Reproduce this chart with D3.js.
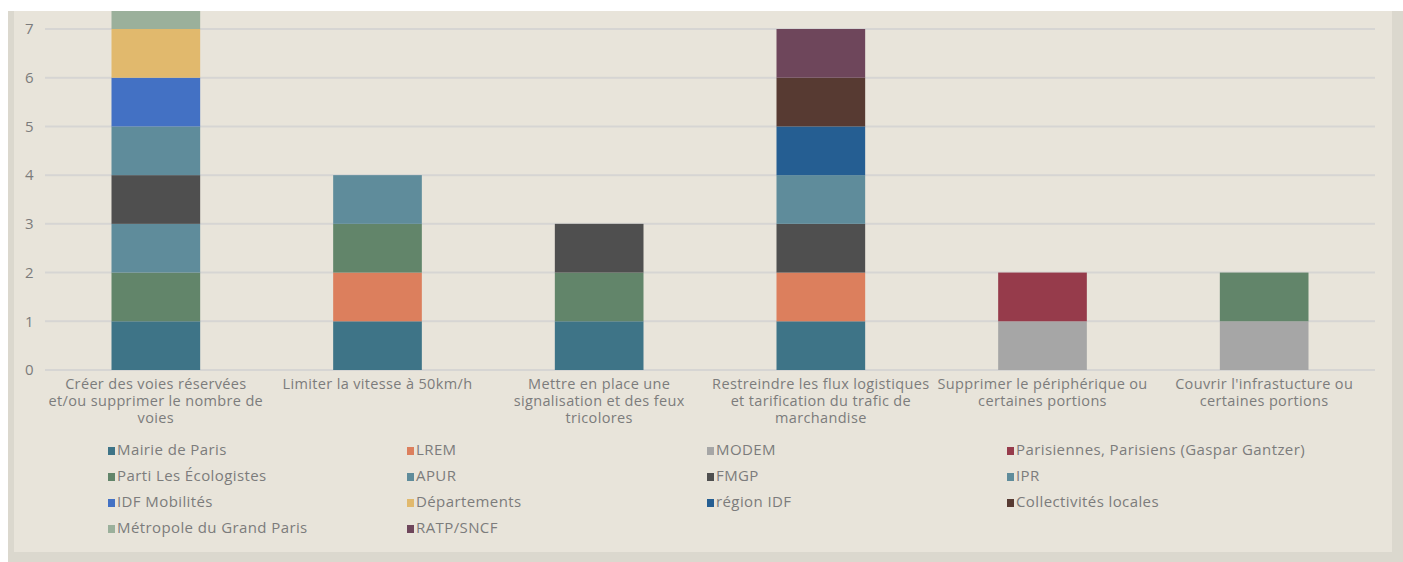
<!DOCTYPE html>
<html>
<head>
<meta charset="utf-8">
<script src="https://cdn.jsdelivr.net/npm/d3@7"></script>
<style>
  body { margin: 0; background: #fff; }
  text { font-family: "Open Sans", sans-serif; fill: #7c7c7c; letter-spacing: 0.4px; }
</style>
</head>
<body>
<script>
const width = 1403;
const height = 562;

// categories (line breaks as in the picture)
const categories = [
  ["Créer des voies réservées", "et/ou supprimer le nombre de", "voies"],
  ["Limiter la vitesse à 50km/h"],
  ["Mettre en place une", "signalisation et des feux", "tricolores"],
  ["Restreindre les flux logistiques", "et tarification du trafic de", "marchandise"],
  ["Supprimer le périphérique ou", "certaines portions"],
  ["Couvrir l'infrastucture ou", "certaines portions"]
];

const seriesNames = [
  "Mairie de Paris", "LREM", "MODEM", "Parisiennes, Parisiens (Gaspar Gantzer)",
  "Parti Les Écologistes", "APUR", "FMGP", "IPR",
  "IDF Mobilités", "Départements", "région IDF", "Collectivités locales",
  "Métropole du Grand Paris", "RATP/SNCF"
];

const seriesColors = [
  "#3e7487", "#dc7f5d", "#a6a6a6", "#963b4b",
  "#62856a", "#5f8c9b", "#4f4f4f", "#5f8c9b",
  "#4371c4", "#e1b96d", "#255e92", "#573a32",
  "#9bb09b", "#6e465b"
];

// one value per category for each series
const mairie      = [1, 1, 1, 1, 0, 0];
const lrem        = [0, 1, 0, 1, 0, 0];
const modem       = [0, 0, 0, 0, 1, 1];
const parisiens   = [0, 0, 0, 0, 1, 0];
const ecologistes = [1, 1, 1, 0, 0, 1];
const apur        = [1, 1, 0, 0, 0, 0];
const fmgp        = [1, 0, 1, 1, 0, 0];
const ipr         = [1, 0, 0, 1, 0, 0];
const idfMob      = [1, 0, 0, 0, 0, 0];
const departements= [1, 0, 0, 0, 0, 0];
const regionIdf   = [0, 0, 0, 1, 0, 0];
const collectiv   = [0, 0, 0, 1, 0, 0];
const metropole   = [1, 0, 0, 0, 0, 0];
const ratp        = [0, 0, 0, 1, 0, 0];

const seriesValues = [mairie, lrem, modem, parisiens, ecologistes, apur, fmgp, ipr,
  idfMob, departements, regionIdf, collectiv, metropole, ratp];

const yTicks = [0, 1, 2, 3, 4, 5, 6, 7];

const svg = d3.select("body").append("svg")
  .attr("width", width)
  .attr("height", height);

// frame and panel
svg.append("rect")
  .attr("x", 8).attr("y", 11)
  .attr("width", width - 8).attr("height", height - 11)
  .attr("fill", "#dbd8ce");
svg.append("rect")
  .attr("x", 14).attr("y", 11)
  .attr("width", 1378).attr("height", 541)
  .attr("fill", "#e8e4da");

svg.append("clipPath").attr("id", "panel")
  .append("rect").attr("x", 14).attr("y", 11).attr("width", 1378).attr("height", 541);

const plot = { left: 45, right: 1375 };

const x = d3.scaleBand()
  .domain(d3.range(categories.length))
  .range([plot.left, plot.right])
  .paddingInner(0.6)
  .paddingOuter(0.3);

const y = d3.scaleLinear()
  .domain([0, 7])
  .range([370, 29]);

// gridlines
svg.append("g")
  .selectAll("line")
  .data(yTicks)
  .join("line")
  .attr("x1", plot.left).attr("x2", plot.right)
  .attr("y1", d => y(d)).attr("y2", d => y(d))
  .attr("stroke", "#d6d5d3")
  .attr("stroke-width", 2);

// y labels
svg.append("g")
  .selectAll("text")
  .data(yTicks)
  .join("text")
  .attr("x", 34)
  .attr("y", d => y(d))
  .attr("dy", "0.35em")
  .attr("text-anchor", "end")
  .style("font-size", "15px")
  .text(d => d);

// stacked bars
const table = categories.map((c, i) => {
  const row = { i };
  seriesNames.forEach((s, k) => { row[s] = seriesValues[k][i]; });
  return row;
});
const stacked = d3.stack().keys(seriesNames)(table);

svg.append("g")
  .attr("clip-path", "url(#panel)")
  .selectAll("g")
  .data(stacked)
  .join("g")
  .attr("fill", (d, k) => seriesColors[k])
  .selectAll("rect")
  .data(d => d.filter(p => p[1] > p[0]))
  .join("rect")
  .attr("x", d => x(d.data.i))
  .attr("width", x.bandwidth())
  .attr("y", d => y(d[1]))
  .attr("height", d => y(d[0]) - y(d[1]));

// x labels
const xl = svg.append("g")
  .selectAll("text")
  .data(categories)
  .join("text")
  .attr("x", (d, i) => x(i) + x.bandwidth() / 2)
  .attr("y", 389)
  .attr("text-anchor", "middle")
  .style("font-size", "14.5px")
  .style("letter-spacing", "0.35px");
xl.selectAll("tspan")
  .data(d => d)
  .join("tspan")
  .attr("x", function() { return this.parentNode.getAttribute("x"); })
  .attr("dy", (d, j) => j === 0 ? 0 : 17)
  .text(d => d);

// legend, 4 columns
const legendX = [108, 407, 707, 1007];
const legendY = [450, 476, 502, 528];
const legend = svg.append("g")
  .selectAll("g")
  .data(seriesNames)
  .join("g")
  .attr("transform", (d, k) => `translate(${legendX[k % 4]},${legendY[Math.floor(k / 4)]})`);
legend.append("rect")
  .attr("x", 0).attr("y", -3)
  .attr("width", 7).attr("height", 8)
  .attr("fill", (d, k) => seriesColors[k]);
legend.append("text")
  .attr("x", 9)
  .attr("y", 5)
  .style("font-size", "15px")
  .text(d => d);
</script>
</body>
</html>
